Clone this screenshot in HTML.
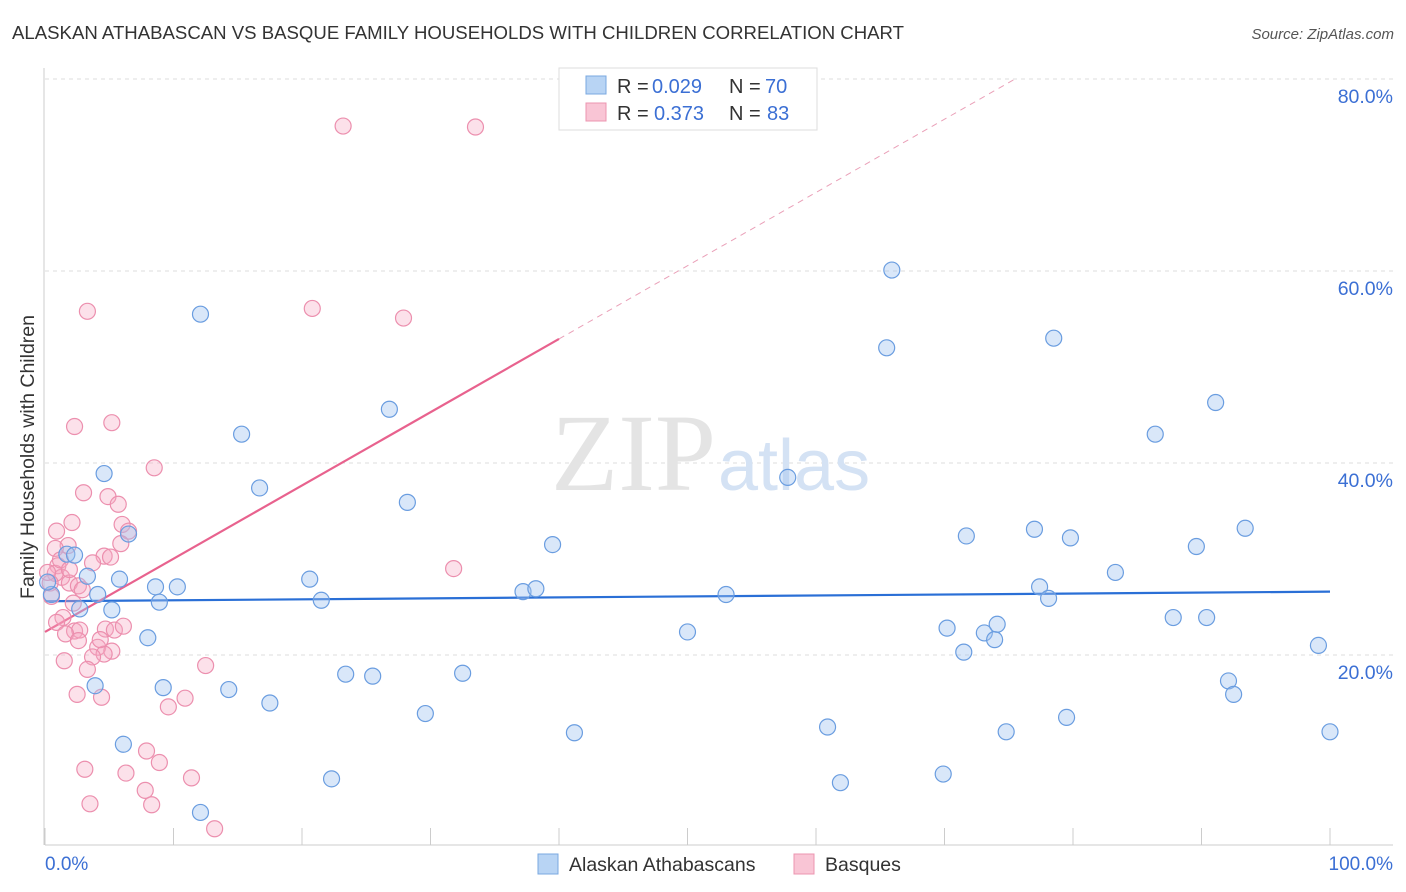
<!DOCTYPE html>
<html><head><meta charset="utf-8"><style>
body{margin:0;background:#fff;font-family:"Liberation Sans",sans-serif;}
svg{display:block}
</style></head><body>
<svg id="chart" width="1406" height="892">
<text x="12" y="39" font-size="18.6" fill="#333">ALASKAN ATHABASCAN VS BASQUE FAMILY HOUSEHOLDS WITH CHILDREN CORRELATION CHART</text>
<text x="1394" y="39" font-size="15" fill="#555" font-style="italic" text-anchor="end">Source: ZipAtlas.com</text>
<text x="34" y="457" font-size="19.5" fill="#333" text-anchor="middle" transform="rotate(-90 34 457)">Family Households with Children</text>
<g id="grid"></g>
<text x="716" y="490" font-size="110" fill="#e4e4e4" text-anchor="end" font-family="Liberation Serif,serif">ZIP</text>
<text x="718" y="490" font-size="72" fill="#d4e2f4">atlas</text>
<g id="lines"></g>
<g id="marks"></g>
<g>
<rect x="559" y="68" width="258" height="62" fill="#fff" stroke="#ddd"/>
<rect x="586" y="76" width="20" height="18" fill="#b8d4f4" stroke="#7aa8e0"/>
<rect x="586" y="103" width="20" height="18" fill="#f9c5d5" stroke="#ec95b0"/>
<g font-size="20" fill="#333">
<text x="617" y="93">R =</text><text x="652" y="93" fill="#3b6fd4">0.029</text><text x="729" y="93">N =</text><text x="765" y="93" fill="#3b6fd4">70</text>
<text x="617" y="120">R =</text><text x="654" y="120" fill="#3b6fd4">0.373</text><text x="729" y="120">N =</text><text x="767" y="120" fill="#3b6fd4">83</text>
</g>
</g>
<g>
<rect x="538" y="854" width="20" height="20" fill="#b8d4f4" stroke="#7aa8e0"/>
<text x="569" y="871" font-size="19.5" fill="#333">Alaskan Athabascans</text>
<rect x="794" y="854" width="20" height="20" fill="#f9c5d5" stroke="#ec95b0"/>
<text x="825" y="871" font-size="19.5" fill="#333">Basques</text>
</g>
</svg>
<script>
const blueX=[12.1,15.3,16.7,26.8,28.2,4.6,6.5,1.7,2.3,3.3,4.1,5.8,8.6,10.3,8.9,5.2,2.7,8.0,0.5,20.6,21.5,3.9,9.2,14.3,17.5,23.4,25.5,32.5,29.6,6.1,12.1,22.3,39.5,37.2,38.2,41.2,50.0,53.0,57.8,60.9,61.9,65.5,65.9,70.2,71.7,71.5,73.1,73.9,74.1,69.9,74.8,77.0,77.4,78.1,78.5,79.8,79.5,83.3,86.4,89.6,91.1,93.4,87.8,90.4,92.1,92.5,99.1,100,0.2];
const blueY=[55.5,43.0,37.4,45.6,35.9,38.9,32.6,30.5,30.4,28.2,26.3,27.9,27.1,27.1,25.5,24.7,24.8,21.8,26.3,27.9,25.7,16.8,16.6,16.4,15.0,18.0,17.8,18.1,13.9,10.7,3.6,7.1,31.5,26.6,26.9,11.9,22.4,26.3,38.5,12.5,6.7,52.0,60.1,22.8,32.4,20.3,22.3,21.6,23.2,7.6,12.0,33.1,27.1,25.9,53.0,32.2,13.5,28.6,43.0,31.3,46.3,33.2,23.9,23.9,17.3,15.9,21.0,12.0,27.6];
const pinkX=[23.2,33.5,20.8,27.9,3.3,2.3,5.2,8.5,3.0,4.9,5.7,2.1,6.0,6.5,0.9,1.8,0.8,4.6,5.1,5.9,3.7,1.0,1.3,1.9,0.8,0.4,0.5,2.6,2.9,2.2,1.4,0.9,2.3,2.7,1.6,4.7,5.4,6.1,2.6,4.1,5.2,4.6,3.7,3.3,4.3,1.5,12.5,10.9,2.5,4.4,9.6,7.9,8.9,6.3,3.1,11.4,7.8,8.3,3.5,13.2,31.8,1.2,0.2,1.9];
const pinkY=[75.1,75.0,56.1,55.1,55.8,43.8,44.2,39.5,36.9,36.5,35.7,33.8,33.6,32.9,32.9,31.4,31.1,30.3,30.2,31.6,29.6,29.3,28.1,27.5,28.5,27.5,26.1,27.2,26.8,25.4,23.9,23.4,22.5,22.6,22.2,22.7,22.6,23.0,21.5,20.8,20.4,20.1,19.8,18.5,21.6,19.4,18.9,15.5,15.9,15.6,14.6,10.0,8.8,7.7,8.1,7.2,5.9,4.4,4.5,1.9,29.0,29.9,28.6,28.9];
const yTicks=[20,40,60,80];
const yTickLabels=["20.0%","40.0%","60.0%","80.0%"];
const blueTrend=[25.6,26.6];
const pinkTrend=[22.4,0.763];
const NS="http://www.w3.org/2000/svg";
const sx=v=>45+v*12.85, sy=v=>847-v*9.6;
function mk(t,a,p){const e=document.createElementNS(NS,t);for(const k in a)e.setAttribute(k,a[k]);p.appendChild(e);return e;}
const grid=document.getElementById('grid');
yTicks.forEach((t,i)=>{
 const l=mk('line',{x1:45,x2:1393,y1:sy(t),y2:sy(t),stroke:'#ddd','stroke-dasharray':'4,4'},grid);
 
 
 const tx=mk('text',{x:1393,y:sy(t)+24,'font-size':19.5,fill:'#3b6fd4','text-anchor':'end'},grid);
 tx.textContent=yTickLabels[i];
 
 
});
mk('line',{x1:44,x2:44,y1:68,y2:845,stroke:'#ccc'},grid);
mk('line',{x1:45,x2:1393,y1:845,y2:845,stroke:'#ccc'},grid);
for(let i=0;i<=10;i++){const t=mk('line',{x1:sx(i*10),x2:sx(i*10),y1:828,y2:845,stroke:'#ccc'},grid);}
const xl=mk('text',{x:45,y:870,'font-size':19,fill:'#3b6fd4'},grid);xl.textContent='0.0%';


const xr=mk('text',{x:1393,y:870,'font-size':19,fill:'#3b6fd4','text-anchor':'end'},grid);xr.textContent='100.0%';


const marks=document.getElementById('marks');
pinkX.forEach((x,i)=>{const c=mk('circle',{cx:sx(x),cy:sy(pinkY[i]),r:8,fill:'rgba(246,170,195,0.35)',stroke:'#ec8fae','stroke-width':1.2},marks);
 
 });
blueX.forEach((x,i)=>{const c=mk('circle',{cx:sx(x),cy:sy(blueY[i]),r:8,fill:'rgba(160,195,240,0.4)',stroke:'#6a9de0','stroke-width':1.2},marks);
 
 });
const lines=document.getElementById('lines');
const bl=mk('line',{x1:sx(0),y1:sy(blueTrend[0]),x2:sx(100),y2:sy(blueTrend[1]),stroke:'#2a6fd6','stroke-width':2.2},lines);


const xEnd=(80-pinkTrend[0])/pinkTrend[1];
const pd=mk('line',{x1:sx(40),y1:sy(pinkTrend[0]+40*pinkTrend[1]),x2:sx(xEnd),y2:sy(80),stroke:'#eaa0b8','stroke-width':1,'stroke-dasharray':'6,5'},lines);


const ps=mk('line',{x1:sx(0),y1:sy(pinkTrend[0]),x2:sx(40),y2:sy(pinkTrend[0]+40*pinkTrend[1]),stroke:'#e8628e','stroke-width':2.2},lines);


</script>
</body></html>
